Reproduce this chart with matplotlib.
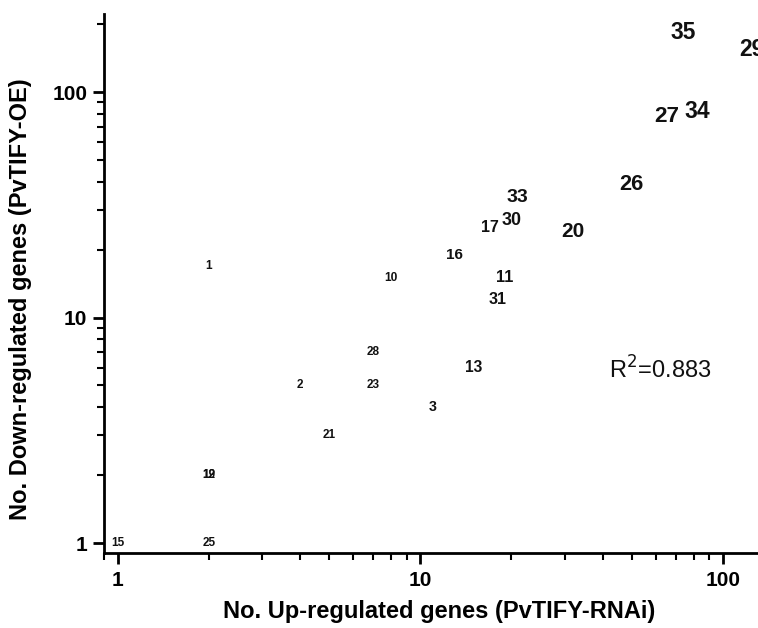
import numpy as np
import matplotlib
matplotlib.use("Agg")
import matplotlib.pyplot as plt
from matplotlib.ticker import LogLocator, FixedFormatter, FixedLocator, NullFormatter

plt.rcParams['font.family'] = ['Liberation Sans', 'DejaVu Sans']

# gene ids with number of up-regulated (RNAi) and down-regulated (OE) genes
ids = ['1', '2', '3', '10', '11', '12', '13', '15', '16', '17', '19', '20', '21',
       '23', '25', '26', '27', '28', '29', '30', '31', '33', '34', '35']
up = [2, 4, 11, 8, 19, 2, 15, 1, 13, 17, 2, 32, 5,
      7, 2, 50, 65, 7, 125, 20, 18, 21, 82, 74]
down = [17, 5, 4, 15, 15, 2, 6, 1, 19, 25, 2, 24, 3,
        5, 1, 39, 78, 7, 155, 27, 12, 34, 82, 183]
r2_text = 'R$^{2}$=0.883'

fig = plt.figure(figsize=(7.58, 6.28), dpi=100)
ax = fig.add_axes([0.137, 0.1194, 0.863, 0.8583])
ax.set_xscale('log')
ax.set_yscale('log')
ax.set_xlim(0.8994, 130.6)
ax.set_ylim(0.903, 222)

# label size grows with the number of up-regulated genes
for name, x, y in zip(ids, up, down):
    fs = np.interp(np.log10(x), [0, 0.9, 1.1, 1.28, 1.32, 1.5, 1.9],
                   [8.5, 8.5, 11, 11.7, 14, 15, 16.5])
    ax.text(x, y, name, ha='center', va='center', fontsize=fs,
            fontweight='bold', color='#111111')

ax.text(0.85, 0.34, r2_text, transform=ax.transAxes, fontsize=17,
        ha='center', va='center', color='#111111')

for side in ['top', 'right']:
    ax.spines[side].set_visible(False)
for side in ['left', 'bottom']:
    ax.spines[side].set_linewidth(2)

for axis in [ax.xaxis, ax.yaxis]:
    axis.set_major_locator(FixedLocator([1, 10, 100]))
    axis.set_major_formatter(FixedFormatter(['1', '10', '100']))
    axis.set_minor_locator(LogLocator(base=10, subs=np.arange(2, 10)))
    axis.set_minor_formatter(NullFormatter())

ax.tick_params(which='major', direction='out', length=8, width=2,
               labelsize=15)
ax.tick_params(which='minor', direction='out', length=5, width=1.5)
ax.tick_params(axis='x', which='major', pad=5)
ax.tick_params(axis='y', which='major', pad=4)
for lab in ax.get_xticklabels() + ax.get_yticklabels():
    lab.set_fontweight('bold')

ax.set_xlabel('No. Up-regulated genes (PvTIFY-RNAi)', fontsize=17,
              fontweight='bold')
ax.set_ylabel('No. Down-regulated genes (PvTIFY-OE)', fontsize=17,
              fontweight='bold')
ax.xaxis.set_label_coords(0.512, -0.087)
ax.yaxis.set_label_coords(-0.11, 0.47)

fig.savefig('out.png', dpi=100)
